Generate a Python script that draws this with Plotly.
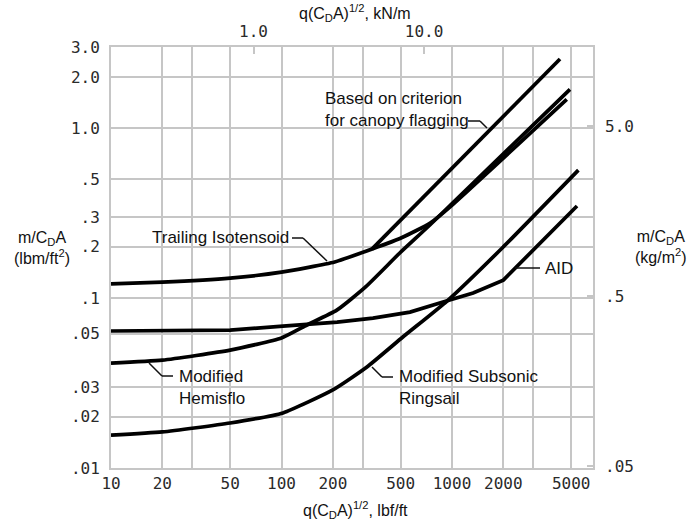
import math
import plotly.graph_objects as go

# ---------------- data: q(CdA)^1/2 [lbf/ft]  vs  m/CdA [lbm/ft^2] ----------------
iso_q = [10, 20, 50, 100, 205, 310, 495, 745, 975, 4710]
iso_m = [0.121, 0.124, 0.131, 0.142, 0.163, 0.188, 0.224, 0.276, 0.344, 1.475]

hemi_q = [10, 20, 50, 100, 141, 211, 309, 494, 742, 4920]
hemi_m = [0.0414, 0.0431, 0.0494, 0.0582, 0.0694, 0.0849, 0.1155, 0.184, 0.269, 1.69]

ring_q = [10, 20, 50, 102, 200, 317, 515, 935, 1990, 5510]
ring_m = [0.0156, 0.0163, 0.0184, 0.0211, 0.0288, 0.0393, 0.059, 0.096, 0.199, 0.566]

aid_q = [10, 20, 50, 102, 212, 344, 567, 886, 1330, 2000, 5410]
aid_m = [0.064, 0.064, 0.0648, 0.0683, 0.0722, 0.0762, 0.0827, 0.0947, 0.107, 0.1275, 0.348]

flag_q = [339, 4300]
flag_m = [0.194, 2.55]

# axis ticks
x_tick_vals = [10, 20, 30, 50, 100, 200, 300, 500, 1000, 2000, 3000, 5000]
x_tick_text = ["10", "20", "", "50", "100", "200", "", "500", "1000", "2000", "", "5000"]
# (the original chart draws its ".05" grid line slightly high; kept as drawn)
y_tick_vals = [0.01, 0.02, 0.03, 0.0618, 0.1, 0.2, 0.3, 0.5, 1.0, 2.0, 3.0]
y_tick_text = [".01", ".02", ".03", ".05", ".1", ".2", ".3", ".5", "1.0", "2.0", "3.0"]
top_tick_vals = [1.0, 10.0]
top_tick_text = ["1.0", "10.0"]
right_tick_vals = [0.05, 0.5, 5.0]
right_tick_text = [".05", ".5", "5.0"]

X_RANGE = [10, 6714]
Y_RANGE = [0.01, 3.0]
LBF_FT_TO_KN_M = 0.0145939
LBM_FT2_TO_KG_M2 = 4.88243

# ---------------- layout geometry (screen pixels) ----------------
W, H = 689, 529
L, R, T, B = 111, 593, 47, 468


def P(px, py):
    return (px - L) / (R - L), (B - py) / (B - T)


GRID = "#c6c6c6"
TICKFONT = dict(family="DejaVu Sans Mono", size=16, color="#2a2a2a")
TXT = dict(family="Liberation Sans, Arial", size=17, color="#111")

fig = go.Figure()
line = dict(color="black", width=3.7)
fig.add_trace(go.Scatter(x=iso_q, y=iso_m, mode="lines", line=dict(line, shape="spline", smoothing=0.5)))
fig.add_trace(go.Scatter(x=hemi_q, y=hemi_m, mode="lines", line=dict(line, shape="spline", smoothing=0.5)))
fig.add_trace(go.Scatter(x=ring_q, y=ring_m, mode="lines", line=dict(line, shape="spline", smoothing=0.5)))
fig.add_trace(go.Scatter(x=aid_q, y=aid_m, mode="lines", line=dict(line, shape="linear")))
fig.add_trace(go.Scatter(x=flag_q, y=flag_m, mode="lines", line=line))
# invisible trace in SI units to carry the secondary axes
fig.add_trace(go.Scatter(x=[q * LBF_FT_TO_KN_M for q in flag_q],
                         y=[m * LBM_FT2_TO_KG_M2 for m in flag_m],
                         xaxis="x2", yaxis="y2", mode="none", hoverinfo="skip"))

fig.update_layout(
    width=W, height=H,
    margin=dict(l=L, r=W - R, t=T, b=H - B, autoexpand=False),
    paper_bgcolor="white", plot_bgcolor="white",
    showlegend=False,
    xaxis=dict(type="log", range=[math.log10(X_RANGE[0]), math.log10(X_RANGE[1])],
               tickmode="array", tickvals=x_tick_vals, ticktext=x_tick_text,
               showgrid=True, gridcolor=GRID, gridwidth=1.6,
               showline=True, linecolor=GRID, linewidth=2, mirror=True,
               ticks="", ticklabelstandoff=0, tickfont=TICKFONT, zeroline=False),
    yaxis=dict(type="log", range=[math.log10(Y_RANGE[0]), math.log10(Y_RANGE[1])],
               tickmode="array", tickvals=y_tick_vals, ticktext=y_tick_text,
               showgrid=True, gridcolor=GRID, gridwidth=1.6,
               showline=True, linecolor=GRID, linewidth=2, mirror=True,
               ticks="", ticklabelstandoff=6, tickfont=TICKFONT, zeroline=False),
    xaxis2=dict(type="log", overlaying="x", side="top", anchor="y",
                range=[math.log10(X_RANGE[0] * LBF_FT_TO_KN_M), math.log10(X_RANGE[1] * LBF_FT_TO_KN_M)],
                tickmode="array", tickvals=top_tick_vals, ticktext=top_tick_text,
                showgrid=False, showline=False, ticks="inside", ticklen=7, tickwidth=1.5,
                tickcolor=GRID, ticklabelstandoff=6, tickfont=TICKFONT, zeroline=False),
    yaxis2=dict(type="log", overlaying="y", side="right", anchor="x",
                range=[math.log10(Y_RANGE[0] * LBM_FT2_TO_KG_M2), math.log10(Y_RANGE[1] * LBM_FT2_TO_KG_M2)],
                tickmode="array", tickvals=right_tick_vals, ticktext=right_tick_text,
                showgrid=False, showline=False, ticks="inside", ticklen=6, tickwidth=1.5,
                tickcolor=GRID, ticklabelstandoff=11, tickfont=TICKFONT, zeroline=False),
)

annotations = []


def note(text, px, py, xanchor="left", size=17):
    x, y = P(px, py)
    annotations.append(dict(text=text, x=x, y=y, xref="paper", yref="paper",
                            xanchor=xanchor, yanchor="middle", showarrow=False,
                            align="left" if xanchor == "left" else "center",
                            font=dict(TXT, size=size), borderpad=0))


note("Based on criterion<br>for canopy flagging", 324, 109)
note("Trailing Isotensoid", 151, 238)
note("Modified<br>Hemisflo", 178, 387)
note("Modified Subsonic<br>Ringsail", 398, 387)
note("AID", 544, 268)

note("q(C<sub>D</sub>A)<sup>1/2</sup>, kN/m", 355, 13, xanchor="center", size=16)
note("q(C<sub>D</sub>A)<sup>1/2</sup>, lbf/ft", 355, 510, xanchor="center", size=16)
note("m/C<sub>D</sub>A<br>(lbm/ft<sup>2</sup>)", 42, 248, xanchor="center", size=16)
note("m/C<sub>D</sub>A<br>(kg/m<sup>2</sup>)", 661, 247, xanchor="center", size=16)
fig.update_layout(annotations=annotations)

# leader lines from labels to curves (layout decoration, in paper space)
leaders = [
    [(468, 121), (480, 121), (487, 128)],
    [(292, 238), (303, 238), (327, 261)],
    [(149, 363), (162, 376), (173, 376)],
    [(372, 367), (382, 377), (393, 377)],
    [(515, 268), (540, 268)],
]
shapes = []
for pts in leaders:
    for (a, b) in zip(pts[:-1], pts[1:]):
        x0, y0 = P(*a)
        x1, y1 = P(*b)
        shapes.append(dict(type="line", xref="paper", yref="paper", x0=x0, y0=y0, x1=x1, y1=y1,
                           line=dict(color="#111", width=1.5)))
fig.update_layout(shapes=shapes)

# remove the page's default body margin so the figure fills the window exactly
fig.write_html("out.html", config={"displayModeBar": False},
               post_script="document.body.style.margin='0px';")
